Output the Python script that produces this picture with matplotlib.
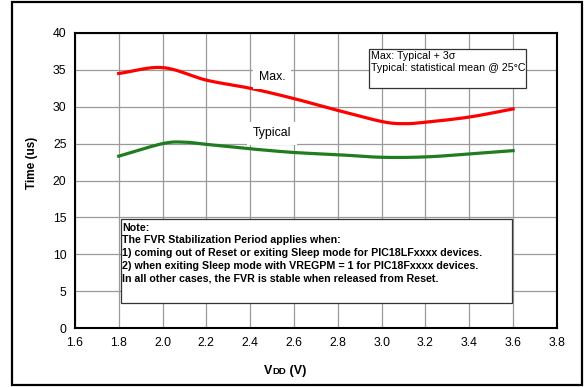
import numpy as np
import matplotlib.pyplot as plt
from matplotlib.patches import Rectangle
from matplotlib.offsetbox import TextArea, HPacker, AnnotationBbox

vdd = [1.8, 2.0, 2.2, 2.4, 2.6, 2.8, 3.0, 3.1, 3.2, 3.4, 3.6]
t_max = [34.5, 35.3, 33.6, 32.5, 31.1, 29.5, 28.0, 27.7, 27.9, 28.6, 29.7]
vdd_typ = [1.8, 2.0, 2.1, 2.2, 2.4, 2.6, 2.8, 3.0, 3.2, 3.4, 3.6]
t_typ = [23.3, 25.0, 25.2, 24.9, 24.3, 23.8, 23.5, 23.15, 23.2, 23.6, 24.05]

x_ticks = [1.6, 1.8, 2.0, 2.2, 2.4, 2.6, 2.8, 3.0, 3.2, 3.4, 3.6, 3.8]
y_ticks = [0, 5, 10, 15, 20, 25, 30, 35, 40]


def smooth(x, y, n=20):
    # Catmull-Rom curve through the points, like the smoothed line in the source
    x = np.asarray(x, float)
    y = np.asarray(y, float)
    px = np.concatenate([[2 * x[0] - x[1]], x, [2 * x[-1] - x[-2]]])
    py = np.concatenate([[2 * y[0] - y[1]], y, [2 * y[-1] - y[-2]]])
    xs, ys = [], []
    s = np.linspace(0, 1, n, endpoint=False)
    for i in range(1, len(px) - 2):
        for p, out in ((px, xs), (py, ys)):
            p0, p1, p2, p3 = p[i - 1], p[i], p[i + 1], p[i + 2]
            out.extend(0.5 * (2 * p1 + (-p0 + p2) * s
                              + (2 * p0 - 5 * p1 + 4 * p2 - p3) * s ** 2
                              + (-p0 + 3 * p1 - 3 * p2 + p3) * s ** 3))
    xs.append(x[-1])
    ys.append(y[-1])
    return xs, ys


plt.rcParams['font.family'] = ['Liberation Sans', 'DejaVu Sans']

fig = plt.figure(figsize=(5.85, 3.87), dpi=100)
ax = fig.add_axes([0.128, 0.152, 0.824, 0.763])

fig.patches.append(Rectangle((12 / 585, 2 / 387), 570 / 585, 383 / 387,
                             transform=fig.transFigure, fill=False,
                             edgecolor='black', linewidth=1.6))

ax.plot(*smooth(vdd, t_max), color='#ff0000', linewidth=2.3, zorder=3)
ax.plot(*smooth(vdd_typ, t_typ), color='#1e7d1e', linewidth=2.3, zorder=3)

ax.set_xlim(1.6, 3.8)
ax.set_ylim(0, 40)
ax.set_xticks(x_ticks)
ax.set_xticklabels([f'{v:.1f}' for v in x_ticks])
ax.set_yticks(y_ticks)
ax.tick_params(length=0, labelsize=8.8, pad=6)
ax.grid(True, color='#9a9a9a', linewidth=0.9)
ax.set_axisbelow(True)
for sp in ax.spines.values():
    sp.set_linewidth(1.5)

ax.set_ylabel('Time (us)', fontsize=8.5, fontweight='bold')
ax.yaxis.set_label_coords(-0.076, 0.56)

# "VDD (V)" with small-caps DD on the baseline
bold = dict(fontweight='bold', color='black')
xlab = HPacker(children=[TextArea('V', textprops=dict(fontsize=9, **bold)),
                         TextArea('DD', textprops=dict(fontsize=6.8, **bold)),
                         TextArea(' (V)', textprops=dict(fontsize=9, **bold))],
               align='baseline', pad=0, sep=0)
ax.add_artist(AnnotationBbox(xlab, (0.393, -0.165), xycoords='axes fraction',
                             box_alignment=(0, 0), frameon=False, pad=0,
                             annotation_clip=False))

ax.text(2.5, 34.0, 'Max.', fontsize=8.8, ha='center', va='center',
        bbox=dict(facecolor='white', edgecolor='none', pad=4), zorder=4)
ax.text(2.5, 26.4, 'Typical', fontsize=8.8, ha='center', va='center',
        bbox=dict(facecolor='white', edgecolor='none', pad=4), zorder=4)

ax.add_patch(Rectangle((2.942, 32.6), 0.718, 5.2, facecolor='white',
                       edgecolor='#333333', linewidth=0.9, zorder=5))
ax.text(2.953, 37.5, 'Max: Typical + 3σ\nTypical: statistical mean @ 25°C',
        fontsize=7.7, ha='left', va='top', linespacing=1.2, zorder=6)

ax.add_patch(Rectangle((1.809, 3.47), 1.784, 11.3, facecolor='white',
                       edgecolor='#333333', linewidth=0.9, zorder=5))
note = ('Note:\n'
        'The FVR Stabilization Period applies when:\n'
        '1) coming out of Reset or exiting Sleep mode for PIC18LFxxxx devices.\n'
        '2) when exiting Sleep mode with VREGPM = 1 for PIC18Fxxxx devices.\n'
        'In all other cases, the FVR is stable when released from Reset.')
ax.text(1.816, 14.3, note, fontsize=7.65, fontweight='bold', ha='left', va='top',
        linespacing=1.33, zorder=6)

fig.savefig('out.png', dpi=100)
